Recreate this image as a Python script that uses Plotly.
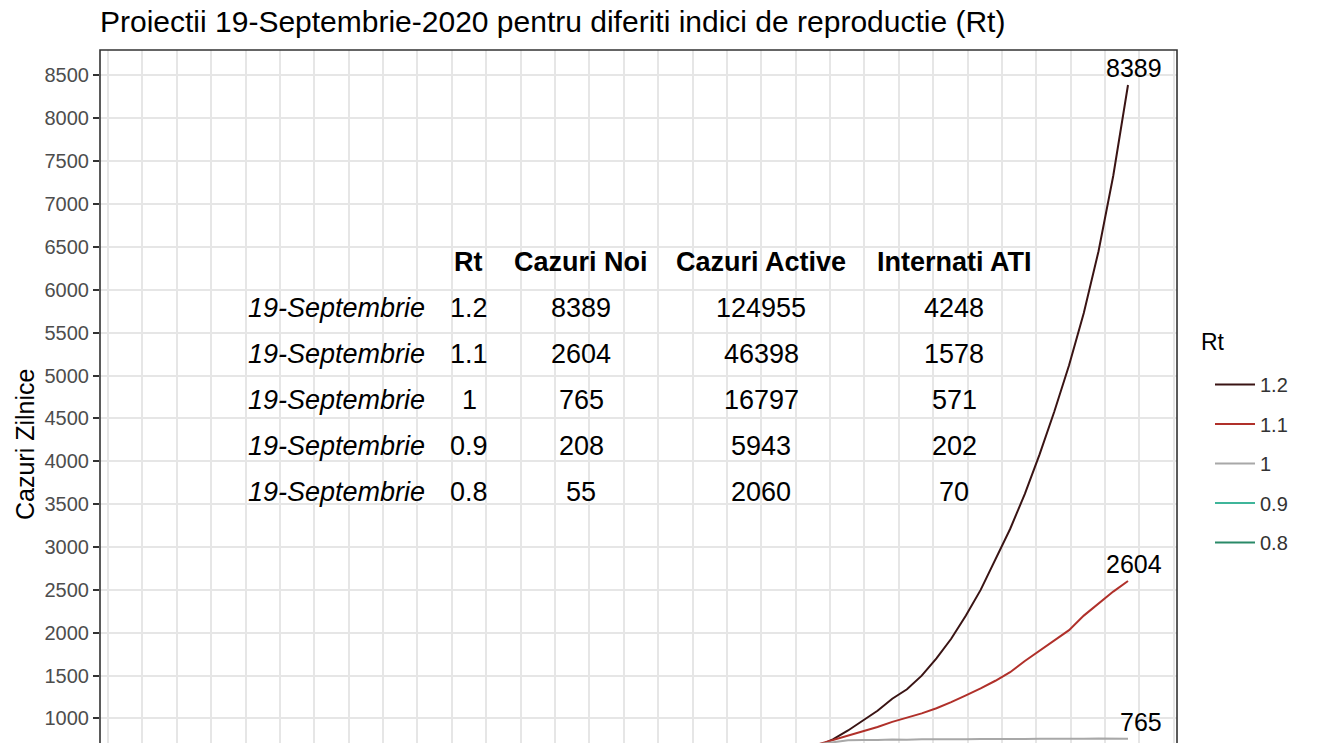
import plotly.graph_objects as go

# ---------------- data ----------------
dates = ["2020-07-18", "2020-07-21", "2020-07-24", "2020-07-27", "2020-07-30",
         "2020-08-02", "2020-08-05", "2020-08-08", "2020-08-11", "2020-08-14",
         "2020-08-17", "2020-08-20", "2020-08-23", "2020-08-26", "2020-08-29",
         "2020-09-01", "2020-09-04", "2020-09-07", "2020-09-10", "2020-09-13",
         "2020-09-16", "2020-09-19"]

rt_12 = [680, 760, 860, 970, 1090, 1230, 1340, 1500, 1700, 1930, 2200, 2500,
         2850, 3210, 3620, 4080, 4580, 5120, 5730, 6450, 7330, 8389]
rt_11 = [700, 750, 800, 850, 900, 960, 1010, 1060, 1120, 1190, 1270, 1350,
         1440, 1540, 1670, 1790, 1900, 2030, 2200, 2340, 2480, 2604]
rt_10 = [700, 725, 745, 750, 748, 755, 752, 758, 756, 760, 758, 762,
         760, 763, 761, 765, 762, 766, 763, 767, 764, 765]
rt_09 = [700, 665, 628, 593, 560, 528, 499, 471, 445, 420, 396, 374,
         353, 333, 315, 297, 281, 265, 250, 236, 222, 208]
rt_08 = [700, 620, 549, 487, 431, 382, 339, 300, 266, 236, 209, 185,
         164, 145, 129, 114, 101, 90, 79, 70, 62, 55]

series_names = ["1.2", "1.1", "1", "0.9", "0.8"]
series_values = [rt_12, rt_11, rt_10, rt_09, rt_08]
series_colors = ["#3a1414", "#b0302a", "#a8a8a8", "#3fb59a", "#2a8a68"]
end_labels = ["8389", "2604", "765"]   # labelled series (visible ones)

# summary table
table_header = ["Rt", "Cazuri Noi", "Cazuri Active", "Internati ATI"]
table_date = ["19-Septembrie"] * 5
table_rt = ["1.2", "1.1", "1", "0.9", "0.8"]
table_noi = ["8389", "2604", "765", "208", "55"]
table_active = ["124955", "46398", "16797", "5943", "2060"]
table_ati = ["4248", "1578", "571", "202", "70"]

# ---------------- layout helpers ----------------
W, H = 1320, 743
PL, PR, PT, PB = 100, 1177, 50, 743


def px(x):
    """screen x -> paper x"""
    return (x - PL) / (PR - PL)


def py(y):
    """screen y -> paper y"""
    return (PB - y) / (PB - PT)


FONT = "Liberation Sans, Arial, sans-serif"

fig = go.Figure()
for name, vals, col in zip(series_names, series_values, series_colors):
    fig.add_trace(go.Scatter(
        x=dates, y=vals, mode="lines", name=name,
        line=dict(color=col, width=2),
        legendgroup=name,
    ))

annotations = []
# end-of-line labels
for lab, vals in zip(end_labels, series_values[:3]):
    annotations.append(dict(
        x=dates[-1], y=vals[-1], xref="x", yref="y", text=lab,
        showarrow=False, xanchor="right", yanchor="bottom",
        xshift=36, yshift=1, font=dict(size=25, color="black", family=FONT)))

# table header
TF = 27
col_x = [468, 581, 761, 954]
for txt, cx in zip(table_header, col_x):
    annotations.append(dict(
        x=px(cx), y=py(262), xref="paper", yref="paper",
        text="<b>%s</b>" % txt, showarrow=False, xanchor="center",
        yanchor="middle", font=dict(size=TF, color="black", family=FONT)))

row_y = [308, 354, 400, 446, 492]
for i, ry in enumerate(row_y):
    annotations.append(dict(
        x=px(427), y=py(ry), xref="paper", yref="paper",
        text="<i>%s</i>" % table_date[i], showarrow=False, xanchor="right",
        yanchor="middle", font=dict(size=TF, color="black", family=FONT)))
    for txt, cx in zip([table_rt[i], table_noi[i], table_active[i], table_ati[i]],
                       [469, 581, 761, 954]):
        annotations.append(dict(
            x=px(cx), y=py(ry), xref="paper", yref="paper", text=txt,
            showarrow=False, xanchor="center", yanchor="middle",
            font=dict(size=TF, color="black", family=FONT)))

# y-axis title
annotations.append(dict(
    x=px(25), y=py(445), xref="paper", yref="paper", text="Cazuri Zilnice",
    showarrow=False, textangle=-90, xanchor="center", yanchor="middle",
    font=dict(size=25, color="black", family=FONT)))

# legend title
annotations.append(dict(
    x=px(1199), y=py(342), xref="paper", yref="paper", text="Rt",
    showarrow=False, xanchor="left", yanchor="middle",
    font=dict(size=23, color="black", family=FONT)))

fig.update_layout(
    width=W, height=H,
    margin=dict(l=PL, r=W - PR, t=PT, b=0, autoexpand=False),
    paper_bgcolor="white", plot_bgcolor="white",
    font=dict(family=FONT, color="black"),
    title=dict(text="Proiectii 19-Septembrie-2020 pentru diferiti indici de reproductie (Rt)",
               x=PL / W, xanchor="left", y=1 - 21 / H, yanchor="middle",
               font=dict(size=30, color="black", family=FONT)),
    xaxis=dict(type="date", range=["2020-02-22 16:34", "2020-09-28 23:27"],
               showticklabels=False, ticks="", showline=False, zeroline=False,
               showgrid=True, gridcolor="#e6e6e6", gridwidth=1.8,
               tick0="2020-02-24 08:00", dtick=7 * 86400000),
    yaxis=dict(range=[714, 8797], tick0=0, dtick=500, showgrid=True,
               gridcolor="#e6e6e6", gridwidth=1.8, zeroline=False,
               ticks="outside", ticklen=6, tickwidth=1.6, tickcolor="#333333",
               tickfont=dict(size=20, color="#4d4d4d", family=FONT),
               showline=False),
    legend=dict(x=px(1210), y=py(365), xanchor="left", yanchor="top",
                font=dict(size=20, color="#333333", family=FONT),
                itemwidth=40,
                traceorder="grouped", tracegroupgap=10.5, bgcolor="rgba(0,0,0,0)"),
    shapes=[dict(type="rect", xref="paper", yref="paper", x0=0, x1=1, y0=-0.05, y1=1,
                 line=dict(color="#333333", width=1.6), fillcolor="rgba(0,0,0,0)",
                 layer="above")],
    annotations=annotations,
    showlegend=True,
)

fig.write_html("out.html",
               config={"displayModeBar": False},
               post_script="document.body.style.margin='0';"
                           "document.body.style.overflow='hidden';")
